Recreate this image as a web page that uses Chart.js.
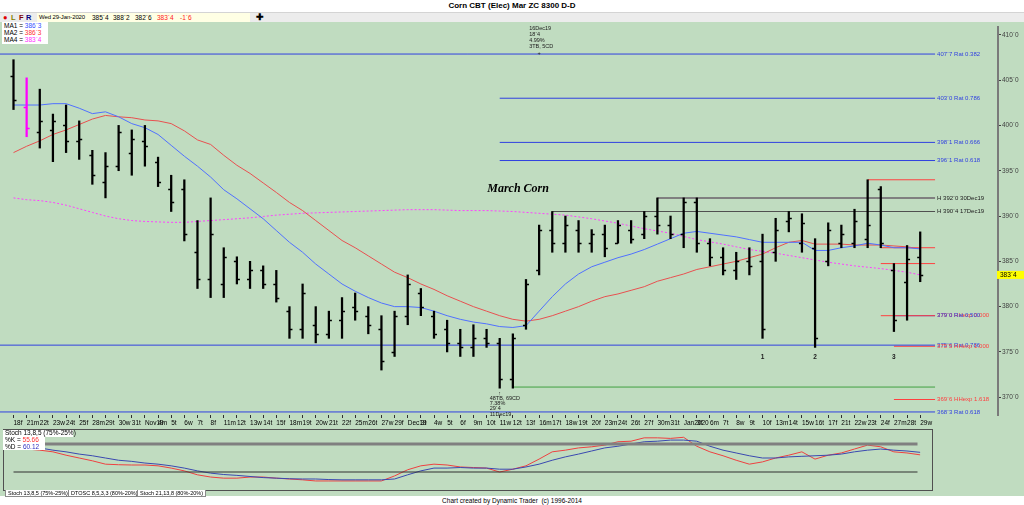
<!DOCTYPE html>
<html>
<head>
<meta charset="utf-8">
<title>Corn CBT (Elec) Mar ZC 8300 D-D</title>
<script src="https://cdn.jsdelivr.net/npm/chart.js@4.4.1/dist/chart.umd.min.js"></script>
<style>
  html, body { margin: 0; padding: 0; }
  body { width: 1024px; height: 505px; position: relative; overflow: hidden; background: #fff;
         font-family: 'Liberation Sans', Arial, sans-serif; color: #000; }
  .abs { position: absolute; }
  #title { left: 0; top: 0; width: 1024px; height: 12px; line-height: 12px; text-align: center;
           font-size: 8px; font-weight: bold; }
  #toolbar { left: 0; top: 12px; width: 1024px; height: 10px; background: #ececec;
             border-top: 1px solid #d4d4d4; box-sizing: border-box; font-size: 6.5px; line-height: 9px; }
  #toolbar span { position: absolute; top: 0; white-space: pre; }
  #quote { left: 37px; top: 0; width: 213px; height: 9px; background: #ffffe4; }
  #green { left: 0; top: 22px; width: 1024px; height: 474px; background: #c0dcc0; }
  #main { left: 0; top: 22px; }
  #stoch { left: 3px; top: 429px; }
  .box { background: #fff; font-size: 6.5px; line-height: 6.8px; white-space: pre; padding: 0 2px; }
  .tab { position: absolute; top: 490px; height: 6px; border: 1px solid #8a8a8a; border-top: none;
         font-size: 5.5px; line-height: 6px; padding: 0 2px; background: #fff; white-space: pre; }
  #footer { left: 0; top: 497px; width: 1024px; text-align: center; font-size: 6.5px; line-height: 7px; }
</style>
</head>
<body>
<div id="title" class="abs">Corn CBT (Elec) Mar ZC 8300 D-D</div>
<div id="toolbar" class="abs">
  <span style="left:3px;color:#e00000;font-size:7.5px;">&#9679;</span>
  <span style="left:11px;color:#808000;font-weight:bold;font-size:7.5px;">L</span>
  <span style="left:19px;color:#800000;font-weight:bold;font-size:7.5px;">F</span>
  <span style="left:26px;color:#000080;font-weight:bold;font-size:7.5px;">R</span>
  <span id="quote"></span>
  <span style="left:39px;font-size:6px;letter-spacing:-0.1px;">Wed 29-Jan-2020</span>
  <span style="left:92px;">385`4</span>
  <span style="left:113px;">388`2</span>
  <span style="left:135px;">382`6</span>
  <span style="left:157px;color:#ff2020;">383`4</span>
  <span style="left:180px;color:#ff2020;">-1`6</span>
  <span style="left:256px;font-weight:bold;font-size:9px;">&#10010;</span>
</div>
<div id="green" class="abs"></div>
<canvas id="main" class="abs" width="1024" height="408"></canvas>
<canvas id="stoch" class="abs" width="930" height="62"></canvas>
<div class="abs box" style="left:2px;top:22px;width:42px;height:21px;padding-top:1px;">MA1 = <span style="color:#3050ff">386`3</span>
MA2 = <span style="color:#ff3030">386`3</span>
MA4 = <span style="color:#ff30ff">383`4</span></div>
<div class="abs box" style="left:3px;top:430px;width:66px;height:7px;">Stoch 13,8,5 (75%-25%)</div>
<div class="abs box" style="left:3px;top:437px;width:38px;height:13px;">%K = <span style="color:#ff3030">55.66</span>
%D = <span style="color:#3030c0">60.12</span></div>
<div class="tab" style="left:5px;">Stoch 13,8,5 (75%-25%)</div>
<div class="tab" style="left:68px;">DTOSC 8,5,3,3 (80%-20%)</div>
<div class="tab" style="left:137px;">Stoch 21,13,8 (80%-20%)</div>
<div id="footer" class="abs">Chart created by Dynamic Trader&nbsp; (c) 1996-2014</div>

<script>
// ---- data ----
const dayLabels = ['18f','21m','22t','23w','24t','25f','28m','29t','30w','31t',
  'Nov19','4m','5t','6w','7t','8f','11m','12t','13w','14t','15f','18m','19t','20w','21t','22f','25m','26t','27w','29f',
  'Dec19','3t','4w','5t','6f','9m','10t','11w','12t','13f','16m','17t','18w','19t','20f','23m','24t','26t','27f','30m','31t',
  'Jan2020','3f','6m','7t','8w','9t','10f','13m','14t','15w','16t','17f','21t','22w','23t','24f','27m','28t','29w'];

const opens = [405.5,402,399.25,399.5,400,398.25,396.75,393.75,395.5,397,
  398.25,396,393,393,386,383,382.5,385,383,384,
  382.5,379.5,377.5,378,377,378.5,380,379,377.5,375,
  379,381.5,379,377.5,376,375.5,376.5,376,372,378,
  384,388.5,387,388.5,387,388,387,388.5,388,390,
  389,388,391.5,387,385.5,384,385,385,386,389.5,
  387,386.5,385,387,387,387.5,393,384,382.75,385.5];
const highs = [407.25,405.25,404,401.25,402.25,400.5,397.25,397,400,399.5,
  400,396.5,394.5,394,389.5,392,386.5,385.5,385,384.5,
  384,380,382.5,380,379.5,381,381.5,380,379,379.5,
  383.5,382,379.5,378.5,377.5,378,377.5,376.5,377,383,
  389,390.5,390,389.5,388.5,389,389.5,389.5,390.5,392,
  390,392,392,387.5,386.5,386,386.5,388,389.75,390.5,
  390.25,387.5,389.25,389,390.75,394,393.25,384.75,386.75,388.25];
const lows = [401.75,398.75,397.5,396,397,396.25,393.5,392,395,394.5,
  395.5,393.25,390.5,387.25,382,381,381,382.5,382,382,
  380.5,376.5,376.5,376,376.5,376.5,378.5,377,373,374.5,
  378,379,376.5,375,374.5,374.5,375.5,371,371,377.5,
  383.5,386,386,386,386,385.5,387,387,387.5,388,
  387.5,386.5,386,384.5,383.5,383,383.5,376.5,385,388.25,
  386,375.5,384.5,386.5,386.5,386.5,386.5,377.25,378.5,382.75];
const closes = [402.75,399.75,400.5,400.5,398.25,398.5,394.5,395.5,399.25,398.5,
  397.75,393.75,391.5,388,383,388,385.5,383,384,382.5,
  381,377.5,381.5,377,378.5,379.5,379.5,378,374,379,
  382.5,380,377,376,375.5,376.5,376,372,376.5,382.5,
  388.5,387,389,387,388,386.5,389,387.5,390,389,
  388,391.5,387,385.5,384,385,384.5,377.5,388.5,389.75,
  389.25,376.5,388.5,388,389.5,389,387,378.5,385.25,383.5];

const ma1 = [402.25,402.25,402.25,402.4,402.4,401.9,401.3,401.5,400.95,400.2,
  399.75,399.0,397.8,396.6,395.5,394.3,392.9,391.9,390.8,389.7,
  388.4,387.1,386.0,384.7,383.6,382.5,381.7,381.0,380.4,380.0,
  380.0,379.9,379.5,379.0,378.6,378.3,378.1,377.8,377.7,377.9,
  379.5,381.1,382.5,383.6,384.4,384.9,385.4,385.8,386.3,386.9,
  387.5,388.1,388.3,388.1,387.9,387.7,387.4,387.1,387.1,387.1,
  387.1,386.2,386.2,386.5,386.7,387.0,386.8,386.5,386.5,386.375];
const ma2 = [397.0,397.7,398.3,399.0,399.5,400.1,400.7,401.1,400.95,400.85,
  400.6,400.5,400.2,399.4,398.4,397.9,396.7,395.6,394.7,393.65,
  392.6,391.5,390.6,389.5,388.4,387.3,386.5,385.6,384.7,383.8,
  383.2,382.5,381.9,381.2,380.6,380.0,379.5,379.0,378.6,378.4,
  378.6,379.0,379.5,380.0,380.6,381.1,381.4,381.8,382.2,382.8,
  383.2,383.6,384.1,384.4,384.7,385.0,385.4,385.8,386.5,387.1,
  387.3,386.9,386.9,386.9,386.8,386.8,386.8,386.7,386.6,386.375];
const ma4 = [392.0,391.8,391.7,391.5,391.2,390.8,390.4,390.0,389.7,389.5,
  389.4,389.35,389.3,389.3,389.4,389.5,389.6,389.7,389.8,389.95,
  390.1,390.2,390.3,390.35,390.4,390.45,390.5,390.55,390.6,390.65,
  390.7,390.7,390.7,390.65,390.6,390.6,390.6,390.55,390.5,390.4,
  390.3,390.2,390.1,389.9,389.7,389.45,389.2,388.9,388.6,388.35,
  388.1,387.75,387.4,387.15,386.9,386.6,386.3,386.1,385.9,385.65,
  385.4,385.15,384.9,384.7,384.5,384.35,384.2,384.0,383.8,383.5];

const stochK = [68,66,64,61,55,50,45,39,38,37.5,
  37.5,36,32,27,20,16,14,14,16,16,
  14,12.5,11,9,9,9,9,9,9,18,
  29,36,39,37.5,34,33,32,25,30,36,
  48,61,64,68,70,73,79,80,86,86,
  85,87,71,61,54,46,39,43,50,55,
  61,48,55,59,66,73,70,61,59,55.66];
const stochD = [71,70,68,64,61,57,54,50,46,44,
  41,39,36,32,27,23,20.5,19,17,15,
  14,13,12.5,12.5,11.5,11,11,11,11,12.5,
  20,27,32,32,33,32,32,30,30,34,
  39,46,52,57,62.5,68,71,75,79,80,
  82,82,80,71,64,59,54,50,50,52,
  53,54,55,57,61,64,66,64,62.5,60.12];
const stochLevels = [75, 25];

const priceTicks = [370, 375, 380, 385, 390, 395, 400, 405, 410];

// support / resistance levels (price, first bar, label, kind)
const levelPrices = [407.875, 403.0, 398.125, 396.125, 394.0, 392.0, 390.5, 386.5, 384.75,
  379.0, 379.0, 375.75, 375.625, 371.125, 369.75, 368.375];
const levelFrom = [-1.1, 37, 37, 37, 65, 49, 41, 66, 66, 66, 67, -1.1, 67, 38, 67, -1.1];
const levelText = ['407`7 Rat 0.382', '403`0 Rat 0.786', '398`1 Rat 0.666', '396`1 Rat 0.618', '',
  'H 392`0 30Dec19', 'H 390`4 17Dec19', '', '', '379`0 HHexp 0.000', '379`0 Rat 0.500',
  '375`6 Rat 0.786', '375`5 HHexp 1.000', '', '369`6 HHexp 1.618', '368`3 Rat 0.618'];
const levelKind = ['rat', 'rat', 'rat', 'rat', 'exp', 'high', 'high2', 'exp', 'exp', 'exp', 'rat',
  'rat', 'exp', 'low', 'exp', 'rat'];
const levelEnd = 70.13;

const waveText = ['1', '2', '3'];
const waveBars = [57, 61, 67];
const highlightBar = 1;

// ---- styles ----
const levelStyle = {
  rat:   { color: '#3040e0', width: 1, text: '#3040e0' },
  exp:   { color: '#ff4040', width: 1, text: '#ff4040' },
  high:  { color: '#808080', width: 2, text: '#202020' },
  high2: { color: '#505050', width: 1.2, text: '#202020' },
  low:   { color: '#40a040', width: 1, text: '#40a040' },
};
const FONT = "'Liberation Sans', Arial, sans-serif";
Chart.defaults.font.family = FONT;

function fmt(p) {
  const w = Math.floor(p);
  return w + '`' + Math.round((p - w) * 8);
}

const xy = (arr) => arr.map((v, i) => ({ x: i, y: v }));

const levelSets = levelPrices.map((p, k) => ({
  type: 'line', order: 5,
  data: [{ x: levelFrom[k], y: p }, { x: levelEnd, y: p }],
  borderColor: levelStyle[levelKind[k]].color,
  borderWidth: levelStyle[levelKind[k]].width,
  pointRadius: 0,
}));

const overlay = {
  id: 'overlay',
  afterDatasetsDraw(chart) {
    const { ctx, scales: { x, y } } = chart;
    ctx.save();
    // open / close ticks
    ctx.lineWidth = 1.3;
    for (let i = 0; i < opens.length; i++) {
      const px = x.getPixelForValue(i);
      ctx.strokeStyle = i === highlightBar ? '#ff00ff' : '#000';
      const yo = Math.round(y.getPixelForValue(opens[i])) + 0.5;
      const yc = Math.round(y.getPixelForValue(closes[i])) + 0.5;
      ctx.beginPath();
      ctx.moveTo(px - 3, yo); ctx.lineTo(px, yo);
      ctx.moveTo(px, yc); ctx.lineTo(px + 3, yc);
      ctx.stroke();
    }
    // level labels
    ctx.font = '6px ' + FONT;
    ctx.textBaseline = 'middle';
    ctx.textAlign = 'left';
    levelPrices.forEach((p, k) => {
      if (!levelText[k]) return;
      ctx.fillStyle = levelStyle[levelKind[k]].text;
      ctx.fillText(levelText[k], x.getPixelForValue(levelEnd) + 2, y.getPixelForValue(p));
    });
    // last price marker
    const yl = y.getPixelForValue(closes[closes.length - 1]);
    ctx.fillStyle = '#ffff00';
    ctx.fillRect(x.right - 1, yl - 4, 27, 8);
    ctx.fillStyle = '#000';
    ctx.font = '6.5px ' + FONT;
    ctx.fillText(fmt(closes[closes.length - 1]), x.right + 2, yl);
    // wave labels
    ctx.font = 'bold 6.5px ' + FONT;
    ctx.textAlign = 'center';
    ctx.fillStyle = '#202020';
    waveBars.forEach((b, k) => ctx.fillText(waveText[k], x.getPixelForValue(b), y.getPixelForValue(374.4)));
    // chart label
    ctx.font = 'bold italic 12px "Liberation Serif", serif';
    ctx.textAlign = 'left';
    ctx.fillStyle = '#000';
    ctx.fillText('March Corn', x.getPixelForValue(36.05), y.getPixelForValue(393.0));
    // swing annotations
    ctx.font = '5.5px ' + FONT;
    ctx.fillStyle = '#202020';
    const topX = x.getPixelForValue(40) - 10;
    ['16Dec19', '18`4', '4.99%', '3TB, 5CD'].forEach((t, k) =>
      ctx.fillText(t, topX, y.getPixelForValue(410.75) + k * 6));
    ctx.textAlign = 'center';
    ctx.fillText('+', x.getPixelForValue(40), y.getPixelForValue(407.9));
    ctx.fillText('\u2191', x.getPixelForValue(37), y.getPixelForValue(370.45));
    ctx.textAlign = 'left';
    const botX = x.getPixelForValue(37) - 10;
    ['48TB, 69CD', '7.38%', '29`4', '11Dec19'].forEach((t, k) =>
      ctx.fillText(t, botX, y.getPixelForValue(369.9) + k * 5.3));
    ctx.restore();
  }
};

new Chart(document.getElementById('main'), {
  type: 'bar',
  data: {
    datasets: [
      {
        type: 'bar', order: 1,
        data: highs.map((h, i) => ({ x: i, y: [lows[i], h] })),
        backgroundColor: highs.map((_, i) => i === highlightBar ? '#ff00ff' : '#000'),
        barThickness: 1.6, borderWidth: 0,
      },
      { type: 'line', order: 2, data: xy(ma1), borderColor: '#5070ff', borderWidth: 1, pointRadius: 0 },
      { type: 'line', order: 3, data: xy(ma2), borderColor: '#e85050', borderWidth: 1, pointRadius: 0 },
      { type: 'line', order: 4, data: xy(ma4), borderColor: '#ff40ff', borderWidth: 1, borderDash: [2, 2], pointRadius: 0 },
      ...levelSets,
    ]
  },
  options: {
    responsive: false, animation: false, devicePixelRatio: 1, events: [],
    layout: { padding: 0 },
    plugins: { legend: { display: false }, tooltip: { enabled: false } },
    scales: {
      x: {
        type: 'linear', min: -1.0274, max: 74.92, offset: false,
        afterBuildTicks: (s) => { s.ticks = dayLabels.map((_, i) => ({ value: i })); },
        afterFit: (s) => { s.height = 15; },
        ticks: {
          autoSkip: false, maxRotation: 0, minRotation: 0, align: 'start', padding: 1,
          font: { size: 6.5 }, color: '#000',
          callback: (v) => dayLabels[v] ?? '',
        },
        grid: { display: true, drawOnChartArea: false, drawTicks: true, tickLength: 3, offset: false, color: '#303030' },
        border: { display: false },
      },
      y: {
        type: 'linear', position: 'right', min: 368.04, max: 410.872,
        afterBuildTicks: (s) => { s.ticks = priceTicks.map((v) => ({ value: v })); },
        afterFit: (s) => { s.width = 26; },
        ticks: { font: { size: 6.5 }, color: '#404040', padding: 1, callback: (v) => fmt(v) },
        grid: { display: true, drawOnChartArea: false, drawTicks: true, tickLength: 3, color: '#404040' },
        border: { display: true, color: '#7a7a7a', width: 2 },
      }
    }
  },
  plugins: [overlay]
});

const stochFrame = {
  id: 'stochFrame',
  afterDraw(chart) {
    const { ctx, width, height } = chart;
    ctx.save();
    ctx.strokeStyle = '#505050';
    ctx.lineWidth = 1;
    ctx.strokeRect(0.5, 0.5, width - 1, height - 1);
    ctx.restore();
  }
};

new Chart(document.getElementById('stoch'), {
  type: 'line',
  data: {
    datasets: [
      { data: [{ x: 0, y: stochLevels[0] }, { x: 68.8, y: stochLevels[0] }], borderColor: '#808080', borderWidth: 3, pointRadius: 0 },
      { data: [{ x: 0, y: stochLevels[1] }, { x: 68.8, y: stochLevels[1] }], borderColor: '#303030', borderWidth: 1.2, pointRadius: 0 },
      { data: xy(stochD), borderColor: '#3a48b0', borderWidth: 1, pointRadius: 0 },
      { data: xy(stochK), borderColor: '#ee4040', borderWidth: 1, pointRadius: 0 },
    ]
  },
  options: {
    responsive: false, animation: false, devicePixelRatio: 1, events: [],
    layout: { padding: 0 },
    plugins: { legend: { display: false }, tooltip: { enabled: false } },
    scales: {
      x: { type: 'linear', display: false, min: -0.799, max: 69.98 },
      y: { type: 'linear', display: false, min: -8.93, max: 101.79 },
    }
  },
  plugins: [stochFrame]
});
</script>
</body>
</html>
